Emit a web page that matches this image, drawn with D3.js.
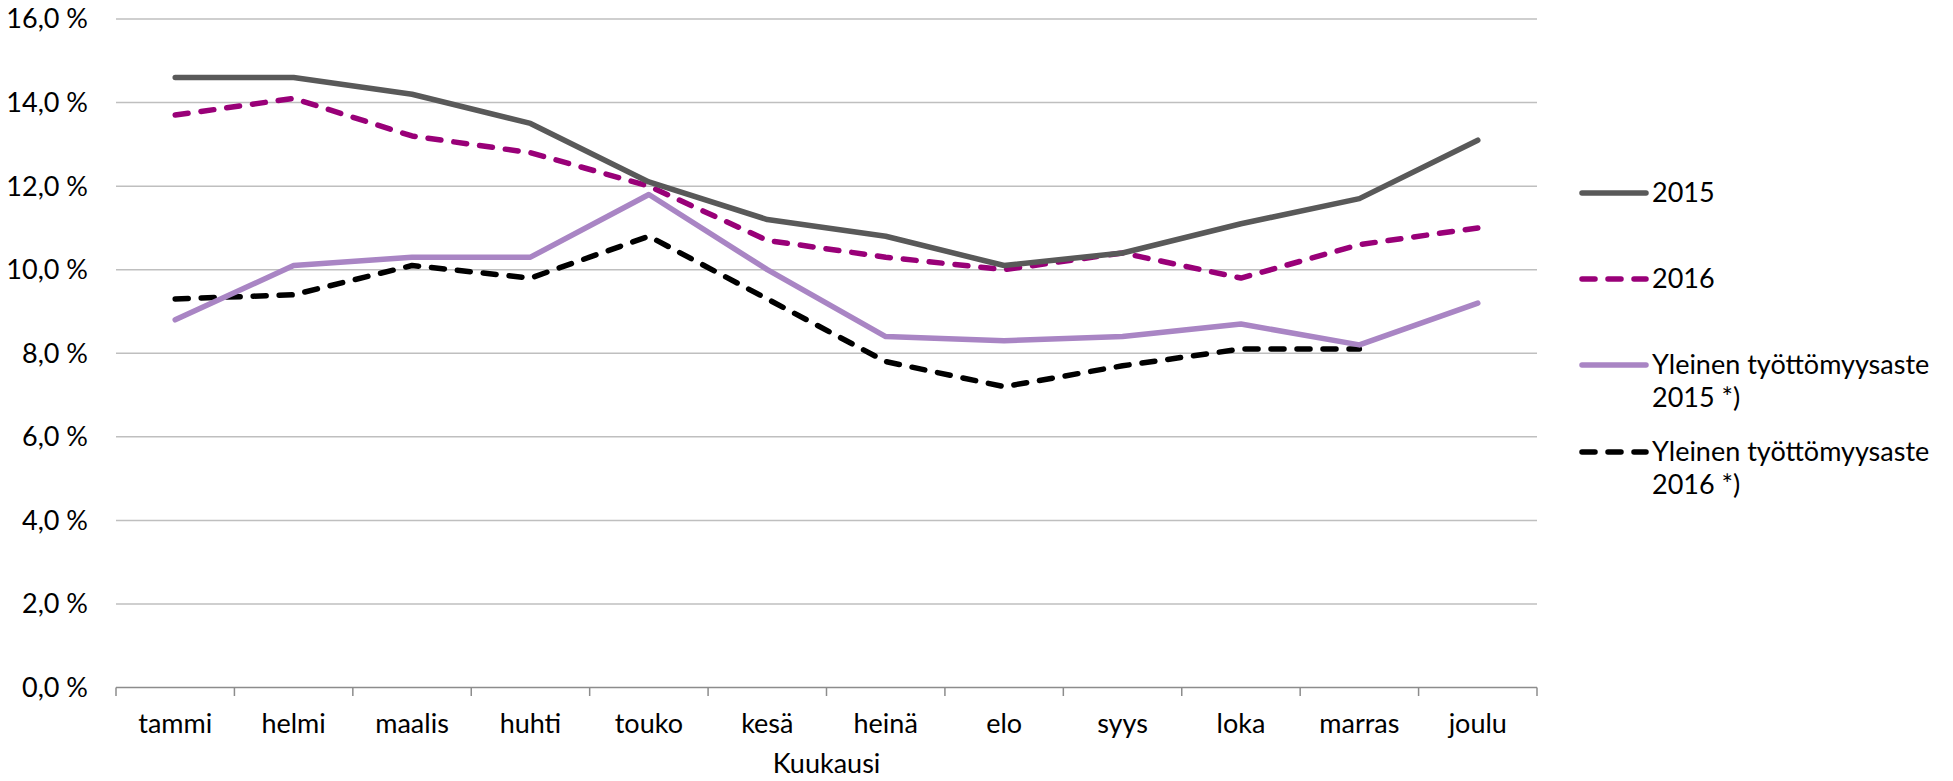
<!DOCTYPE html>
<html>
<head>
<meta charset="utf-8">
<script src="https://cdn.jsdelivr.net/npm/d3@7"></script>
<style>
  body { margin: 0; background: #fff; }
  text { font-family: Lato, "Open Sans", sans-serif; fill: #000; }
</style>
</head>
<body>
<script>
// months on the x axis
const months = ["tammi", "helmi", "maalis", "huhti", "touko", "kesä",
                "heinä", "elo", "syys", "loka", "marras", "joulu"];

// values, percent
const rate2015 = [14.6, 14.6, 14.2, 13.5, 12.1, 11.2, 10.8, 10.1, 10.4, 11.1, 11.7, 13.1];
const rate2016 = [13.7, 14.1, 13.2, 12.8, 12.0, 10.7, 10.3, 10.0, 10.4, 9.8, 10.6, 11.0];
const general2015 = [8.8, 10.1, 10.3, 10.3, 11.8, 10.0, 8.4, 8.3, 8.4, 8.7, 8.2, 9.2];
const general2016 = [9.3, 9.4, 10.1, 9.8, 10.8, 9.3, 7.8, 7.2, 7.7, 8.1, 8.1, null];

const yTicks = [0, 2, 4, 6, 8, 10, 12, 14, 16];

const seriesNames = ["2015", "2016", "Yleinen työttömyysaste\n2015 *)", "Yleinen työttömyysaste\n2016 *)"];

const W = 1953, H = 781;
const margin = {left: 116, right: 416, top: 19, bottom: 93.5};

const svg = d3.select("body").append("svg")
    .attr("width", W)
    .attr("height", H);

const x = d3.scaleBand()
    .domain(months)
    .range([margin.left, W - margin.right]);

const y = d3.scaleLinear()
    .domain([0, 16])
    .range([H - margin.bottom, margin.top]);

// horizontal grid
svg.append("g")
  .selectAll("line")
  .data(yTicks.filter(d => d > 0))
  .enter().append("line")
    .attr("x1", margin.left)
    .attr("x2", W - margin.right)
    .attr("y1", d => y(d))
    .attr("y2", d => y(d))
    .attr("stroke", "#bfbfbf")
    .attr("stroke-width", 1.5);

// y labels
svg.append("g")
  .selectAll("text")
  .data(yTicks)
  .enter().append("text")
    .attr("x", 88)
    .attr("y", d => y(d))
    .attr("dy", "0.35em")
    .attr("text-anchor", "end")
    .attr("font-size", 27)
    .text(d => d3.format(".1f")(d).replace(".", ",") + " %");

// x axis with ticks on category boundaries
const axisY = y(0);
const xa = svg.append("g");
xa.append("line")
    .attr("x1", margin.left)
    .attr("x2", W - margin.right)
    .attr("y1", axisY)
    .attr("y2", axisY)
    .attr("stroke", "#8c8c8c")
    .attr("stroke-width", 1.5);

const bounds = months.map(m => x(m)).concat([x.range()[1]]);
xa.selectAll(".tick")
  .data(bounds)
  .enter().append("line")
    .attr("class", "tick")
    .attr("x1", d => d)
    .attr("x2", d => d)
    .attr("y1", axisY)
    .attr("y2", axisY + 8.5)
    .attr("stroke", "#8c8c8c")
    .attr("stroke-width", 1.5);

xa.selectAll(".lbl")
  .data(months)
  .enter().append("text")
    .attr("class", "lbl")
    .attr("x", d => x(d) + x.bandwidth() / 2)
    .attr("y", 733)
    .attr("text-anchor", "middle")
    .attr("font-size", 27)
    .text(d => d);

svg.append("text")
    .attr("x", (margin.left + W - margin.right) / 2)
    .attr("y", 773)
    .attr("text-anchor", "middle")
    .attr("font-size", 27)
    .text("Kuukausi");

// lines
const series = [
  {name: seriesNames[0], values: rate2015, color: "#595959", dash: null},
  {name: seriesNames[1], values: rate2016, color: "#990078", dash: "13,13"},
  {name: seriesNames[2], values: general2015, color: "#a985c4", dash: null},
  {name: seriesNames[3], values: general2016, color: "#000000", dash: "13,13"}
];

const line = d3.line()
    .defined(d => d != null)
    .x((d, i) => x(months[i]) + x.bandwidth() / 2)
    .y(d => y(d));

// draw in reverse so 2015 is on top
svg.append("g")
  .selectAll("path")
  .data(series.slice().reverse())
  .enter().append("path")
    .attr("d", d => line(d.values))
    .attr("fill", "none")
    .attr("stroke", d => d.color)
    .attr("stroke-width", 5.5)
    .attr("stroke-linecap", "round")
    .attr("stroke-linejoin", "round")
    .attr("stroke-dasharray", d => d.dash);

// legend
const legendY = [193, 279, 365, 452];
const lg = svg.append("g")
  .selectAll("g")
  .data(series)
  .enter().append("g")
    .attr("transform", (d, i) => `translate(1582,${legendY[i]})`);

lg.append("line")
    .attr("x1", 0)
    .attr("x2", 64)
    .attr("stroke", d => d.color)
    .attr("stroke-width", 5.5)
    .attr("stroke-linecap", "round")
    .attr("stroke-dasharray", d => d.dash ? "13,13" : null);

lg.append("text")
    .attr("x", 70)
    .attr("font-size", 27)
    .selectAll("tspan")
    .data(d => d.name.split("\n"))
    .enter().append("tspan")
      .attr("x", 70)
      .attr("dy", (t, i) => i === 0 ? "0.35em" : "1.22em")
      .text(t => t);
</script>
</body>
</html>
